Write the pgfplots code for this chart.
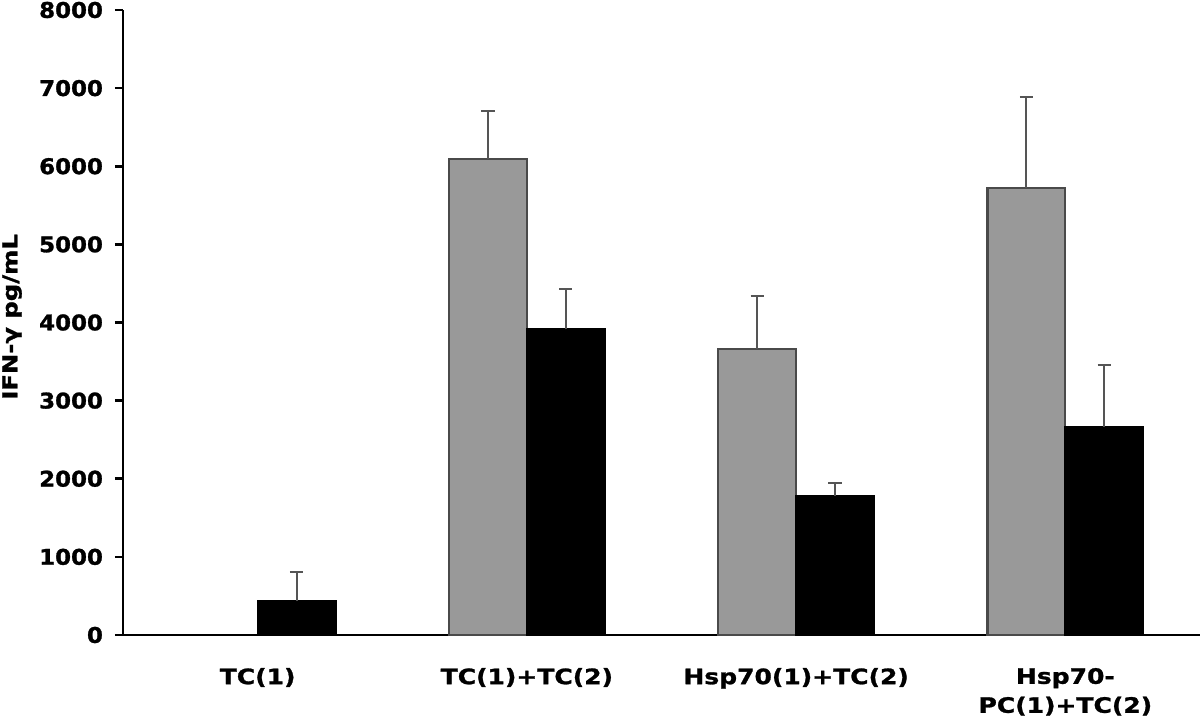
\documentclass[border=0pt]{standalone}
\usepackage{fontspec}
\setmainfont{DejaVu Sans}
\newfontfamily\xlabfont[FakeStretch=1.18, BoldFeatures={FakeBold=1.2}]{DejaVu Sans}
\newfontfamily\ytickfont[FakeStretch=1.06, BoldFeatures={FakeBold=1.2}]{DejaVu Sans}
\usepackage{pgfplots}
\pgfplotsset{compat=1.18}
\definecolor{bargray}{HTML}{999999}
\definecolor{edgegray}{HTML}{4A4A4A}
\definecolor{errgray}{HTML}{555555}
\begin{document}
\begin{tikzpicture}
\useasboundingbox (-61.5pt,-41pt) rectangle (538.5pt,317.5pt);
\begin{axis}[
  scale only axis,
  width=538.5pt, height=312.5pt,
  xmin=-0.5, xmax=3.5,
  ymin=0, ymax=8000,
  axis x line=bottom, axis y line=left,
  axis line style={-, line width=1.3pt, black},
  xtick={0,1,2,3},
  xticklabels={TC(1), TC(1)+TC(2), Hsp70(1)+TC(2), {Hsp70-\\PC(1)+TC(2)}},
  x tick style={draw=none},
  xticklabel style={font=\xlabfont\fontsize{10.6}{14.5}\selectfont\bfseries, align=center, anchor=north, yshift=-9pt},
  ytick={0,1000,...,8000},
  y tick style={line width=1.3pt, black},
  tick align=outside,
  major tick length=4pt,
  yticklabel style={font=\ytickfont\fontsize{10.8}{13}\selectfont\bfseries, xshift=-2.5pt},
  /pgf/number format/assume math mode=true,
  /pgf/number format/set thousands separator={},
  ylabel={IFN-γ pg/mL},
  ylabel style={font=\xlabfont\fontsize{10.3}{12}\selectfont\bfseries, at={(axis description cs:-0.103,0.509)}, anchor=center, rotate=0},
  clip=false,
  ybar,
  bar width=0.289,
  bar shift=0,
]
% gray series: plotted at group position - 0.1445
\addplot[fill=bargray, draw=edgegray, line width=1.1pt,
  error bars/.cd, y dir=plus, y explicit,
  error bar style={errgray, line width=1pt},
  error mark options={rotate=90, mark size=3.3pt, line width=1pt, errgray}]
  coordinates {(0.8555,6093) +- (0,610) (1.8555,3661) +- (0,678) (2.8555,5726) +- (0,1165)};
% black series: plotted at group position + 0.1445
\addplot[fill=black, draw=black, line width=1.1pt,
  error bars/.cd, y dir=plus, y explicit,
  error bar style={errgray, line width=1pt},
  error mark options={rotate=90, mark size=3.3pt, line width=1pt, errgray}]
  coordinates {(0.1445,439) +- (0,366) (1.1445,3913) +- (0,520) (2.1445,1783) +- (0,158) (3.1445,2667) +- (0,790)};
\end{axis}
\end{tikzpicture}
\end{document}
